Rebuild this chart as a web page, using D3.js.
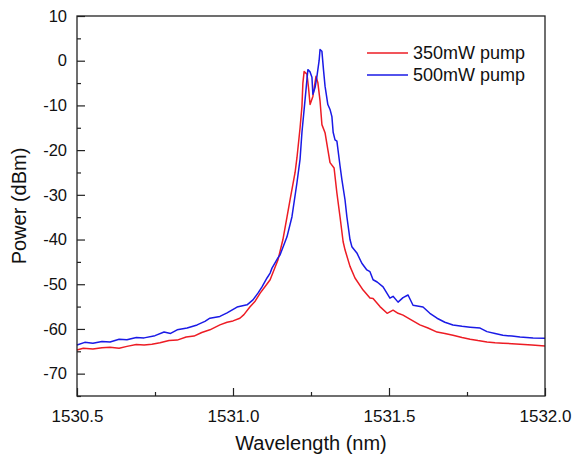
<!DOCTYPE html>
<html>
<head>
<meta charset="utf-8">
<script src="https://cdn.jsdelivr.net/npm/d3@7"></script>
<style>
  body { margin: 0; background: #fff; }
  svg { display: block; font-family: Arial, "Liberation Sans", sans-serif; }
</style>
</head>
<body>
<svg id="chart"></svg>
<script>
'use strict'

const WIDTH = 575;
const HEIGHT = 456;
const margin = { top: 16, right: 30, bottom: 60, left: 77 };

// series
const redWl = [1530.500, 1530.520, 1530.551, 1530.580, 1530.606, 1530.635, 1530.660, 1530.690, 1530.715, 1530.740,
  1530.766, 1530.795, 1530.821, 1530.850, 1530.875, 1530.900, 1530.926, 1530.958, 1530.981, 1531.000,
  1531.022, 1531.035, 1531.054, 1531.071, 1531.087, 1531.103, 1531.119, 1531.144, 1531.160, 1531.173,
  1531.183, 1531.199, 1531.205, 1531.215, 1531.221, 1531.224, 1531.228, 1531.237, 1531.242, 1531.247,
  1531.256, 1531.266, 1531.272, 1531.279, 1531.285, 1531.295, 1531.304, 1531.311, 1531.324, 1531.333,
  1531.343, 1531.353, 1531.359, 1531.375, 1531.391, 1531.417, 1531.439, 1531.449, 1531.471, 1531.494,
  1531.513, 1531.529, 1531.545, 1531.567, 1531.599, 1531.625, 1531.654, 1531.679, 1531.705, 1531.734,
  1531.760, 1531.785, 1531.814, 1531.840, 1531.865, 1531.894, 1531.920, 1531.958, 1532.000];
const redP = [-64.7, -64.3, -64.5, -64.2, -64.1, -64.3, -63.9, -63.5, -63.6, -63.4,
  -63.1, -62.6, -62.5, -61.8, -61.6, -60.8, -60.2, -59.1, -58.5, -58.2,
  -57.6, -56.8, -55.1, -53.8, -52, -50.5, -49, -44.6, -40, -35,
  -31.1, -25, -21.7, -15, -10.2, -5, -2.4, -3, -6, -9.8,
  -8, -3.5, -4.9, -9, -14.3, -16.1, -19.9, -22.8, -24, -29.6,
  -34.9, -40.5, -42.3, -46, -48.6, -51.3, -53.1, -53.2, -55, -56.5,
  -55.8, -56.5, -56.9, -57.8, -59.1, -59.8, -60.7, -61, -61.4, -61.9,
  -62.3, -62.6, -62.9, -63.1, -63.2, -63.3, -63.4, -63.6, -63.8];

const blueWl = [1530.500, 1530.525, 1530.551, 1530.580, 1530.606, 1530.635, 1530.660, 1530.690, 1530.715, 1530.750,
  1530.779, 1530.800, 1530.821, 1530.853, 1530.885, 1530.910, 1530.926, 1530.958, 1530.981, 1531.013,
  1531.045, 1531.064, 1531.080, 1531.093, 1531.109, 1531.119, 1531.125, 1531.144, 1531.151, 1531.173,
  1531.189, 1531.205, 1531.215, 1531.221, 1531.231, 1531.240, 1531.247, 1531.253, 1531.256, 1531.263,
  1531.269, 1531.276, 1531.279, 1531.285, 1531.290, 1531.295, 1531.304, 1531.311, 1531.317, 1531.321,
  1531.327, 1531.333, 1531.343, 1531.349, 1531.359, 1531.365, 1531.375, 1531.381, 1531.397, 1531.413,
  1531.429, 1531.439, 1531.449, 1531.462, 1531.481, 1531.503, 1531.513, 1531.529, 1531.545, 1531.561,
  1531.577, 1531.609, 1531.631, 1531.654, 1531.679, 1531.705, 1531.734, 1531.760, 1531.792, 1531.814,
  1531.840, 1531.865, 1531.894, 1531.920, 1531.962, 1532.000];
const blueP = [-63.6, -63.0, -63.2, -62.8, -62.9, -62.3, -62.4, -61.9, -62.0, -61.5,
  -60.7, -61.0, -60.2, -59.8, -59.1, -58.3, -57.6, -57.2, -56.4, -55.1,
  -54.6, -53.5, -52, -50.6, -48.6, -47.5, -46.4, -44.1, -43.4, -39.4,
  -34.9, -27.3, -22, -16, -8.7, -2, -2.5, -3.7, -7.5, -6,
  -3.5, 0, 2.5, 2.1, -2, -5.7, -9.8, -10.9, -12.5, -16,
  -17.7, -18, -23.5, -26.6, -31.1, -34.9, -40, -41.6, -43, -45.3,
  -46.8, -47.2, -49, -49.5, -50.6, -53.1, -52.7, -54, -53, -52.4,
  -54.7, -55.1, -56.5, -57.6, -58.5, -59.1, -59.4, -59.6, -59.8, -60.6,
  -61, -61.4, -61.6, -61.8, -62, -62.1];

const seriesNames = ['350mW pump', '500mW pump'];
const seriesColors = ['#ed1c24', '#1a1ae6'];
const xTicks = [1530.5, 1531.0, 1531.5, 1532.0];
const yTicks = [10, 0, -10, -20, -30, -40, -50, -60, -70];

const svg = d3.select('#chart')
  .attr('width', WIDTH)
  .attr('height', HEIGHT);

const xScale = d3.scaleLinear()
  .domain([1530.5, 1532.0])
  .range([margin.left, WIDTH - margin.right]);
const yScale = d3.scaleLinear()
  .domain([-75, 10])
  .range([HEIGHT - margin.bottom, margin.top]);

// minor ticks
const xMinor = d3.range(1530.5, 1532.01, 0.25).filter(v => !xTicks.some(t => Math.abs(t - v) < 1e-6));
const yMinor = d3.range(-75, 10.01, 5).filter(v => !yTicks.includes(v));

svg.append('g')
  .attr('transform', 'translate(0,' + (HEIGHT - margin.bottom) + ')')
  .call(d3.axisBottom(xScale).tickValues(xMinor).tickSize(-4).tickFormat(''))
  .call(g => g.select('.domain').remove());
svg.append('g')
  .attr('transform', 'translate(' + margin.left + ',0)')
  .call(d3.axisLeft(yScale).tickValues(yMinor).tickSize(-4).tickFormat(''))
  .call(g => g.select('.domain').remove());

const xAxis = svg.append('g')
  .attr('transform', 'translate(0,' + (HEIGHT - margin.bottom) + ')')
  .call(d3.axisBottom(xScale).tickValues(xTicks).tickSize(-8).tickPadding(14).tickFormat(d3.format('.1f')));
xAxis.select('.domain').remove();
xAxis.selectAll('text').attr('font-size', 17).attr('fill', '#111');

const yAxis = svg.append('g')
  .attr('transform', 'translate(' + margin.left + ',0)')
  .call(d3.axisLeft(yScale).tickValues(yTicks).tickSize(-8).tickPadding(10).tickFormat(d => d < 0 ? '-' + Math.abs(d) : d));
yAxis.select('.domain').remove();
yAxis.selectAll('text').attr('font-size', 16.5).attr('fill', '#111');

svg.selectAll('.tick line').attr('stroke', '#222').attr('stroke-width', 1.2);

// data lines
const line = d3.line()
  .x(d => xScale(d[0]))
  .y(d => yScale(d[1]));

const series = [d3.zip(redWl, redP), d3.zip(blueWl, blueP)];
svg.selectAll('path.series')
  .data(series)
  .enter().append('path')
  .attr('class', 'series')
  .attr('d', line)
  .attr('fill', 'none')
  .attr('stroke', (d, i) => seriesColors[i])
  .attr('stroke-width', 1.5)
  .attr('stroke-linejoin', 'round');

// frame
svg.append('rect')
  .attr('x', margin.left)
  .attr('y', margin.top)
  .attr('width', WIDTH - margin.left - margin.right)
  .attr('height', HEIGHT - margin.top - margin.bottom)
  .attr('fill', 'none')
  .attr('stroke', '#222')
  .attr('stroke-width', 1.3);

// legend
const legend = svg.append('g').attr('transform', 'translate(367,53)');
seriesNames.forEach((name, i) => {
  const row = legend.append('g').attr('transform', 'translate(0,' + (i * 22) + ')');
  row.append('line')
    .attr('x1', 0).attr('x2', 41)
    .attr('stroke', seriesColors[i])
    .attr('stroke-width', 1.5);
  row.append('text')
    .attr('x', 46).attr('y', 6)
    .attr('font-size', 18)
    .attr('fill', '#111')
    .text(name);
});

// axis titles
svg.append('text')
  .attr('x', (margin.left + WIDTH - margin.right) / 2)
  .attr('y', 450)
  .attr('text-anchor', 'middle')
  .attr('font-size', 20)
  .attr('fill', '#111')
  .text('Wavelength (nm)');

svg.append('text')
  .attr('transform', 'translate(26,' + ((margin.top + HEIGHT - margin.bottom) / 2) + ') rotate(-90)')
  .attr('text-anchor', 'middle')
  .attr('font-size', 20)
  .attr('fill', '#111')
  .text('Power (dBm)');
</script>
</body>
</html>
